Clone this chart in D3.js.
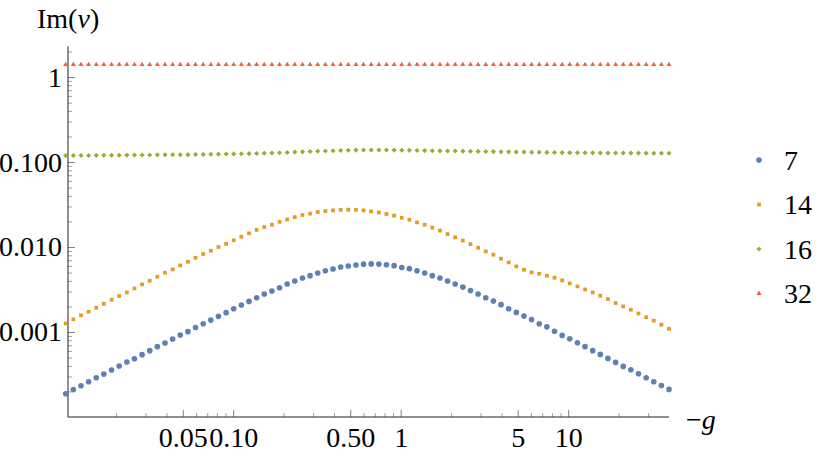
<!DOCTYPE html>
<html>
<head>
<meta charset="utf-8">
<script src="https://cdn.jsdelivr.net/npm/d3@7"></script>
<style>
  body { margin: 0; background: #fff; }
  svg { display: block; }
</style>
</head>
<body>
<div id="chart"></div>
<script>
const gValues = [
    0.01, 0.01111, 0.01234, 0.01370, 0.01522, 0.01690, 0.01878, 0.02086, 0.02317, 0.02573,
    0.02858, 0.03175, 0.03526, 0.03917, 0.04351, 0.04831, 0.05366, 0.05960, 0.06620, 0.07353,
    0.08166, 0.09071, 0.1007, 0.1119, 0.1243, 0.1380, 0.1533, 0.1703, 0.1891, 0.2101,
    0.2333, 0.2592, 0.2878, 0.3197, 0.3551, 0.3945, 0.4381, 0.4866, 0.5405, 0.6003,
    0.6668, 0.7406, 0.8226, 0.9137, 1.015, 1.127, 1.252, 1.391, 1.545, 1.716,
    1.905, 2.116, 2.351, 2.611, 2.900, 3.221, 3.578, 3.974, 4.414, 4.903,
    5.445, 6.048, 6.718, 7.462, 8.288, 9.204, 10.22, 11.36, 12.61, 14.01,
    15.56, 17.28, 19.20, 21.32, 23.68, 26.30, 29.22, 32.45, 36.04, 40.0
];

const series7 = [
    1.88e-4, 2.10e-4, 2.33e-4, 2.60e-4, 2.90e-4, 3.20e-4, 3.57e-4, 3.98e-4, 4.44e-4, 4.85e-4,
    5.41e-4, 6.03e-4, 6.72e-4, 7.42e-4, 8.27e-4, 9.22e-4, 1.01e-3, 1.13e-3, 1.25e-3, 1.38e-3,
    1.53e-3, 1.69e-3, 1.88e-3, 2.08e-3, 2.29e-3, 2.53e-3, 2.80e-3, 3.04e-3, 3.32e-3, 3.67e-3,
    3.98e-3, 4.32e-3, 4.60e-3, 4.95e-3, 5.26e-3, 5.51e-3, 5.82e-3, 5.98e-3, 6.14e-3, 6.28e-3,
    6.33e-3, 6.30e-3, 6.19e-3, 6.03e-3, 5.75e-3, 5.56e-3, 5.26e-3, 4.95e-3, 4.60e-3, 4.32e-3,
    3.98e-3, 3.67e-3, 3.38e-3, 3.08e-3, 2.80e-3, 2.53e-3, 2.32e-3, 2.10e-3, 1.88e-3, 1.70e-3,
    1.54e-3, 1.40e-3, 1.25e-3, 1.15e-3, 1.02e-3, 9.12e-4, 8.34e-4, 7.48e-4, 6.72e-4, 6.03e-4,
    5.45e-4, 4.89e-4, 4.39e-4, 3.94e-4, 3.60e-4, 3.23e-4, 2.90e-4, 2.60e-4, 2.35e-4, 2.11e-4
];

const series14 = [
    1.26e-3, 1.41e-3, 1.57e-3, 1.73e-3, 1.93e-3, 2.15e-3, 2.40e-3, 2.65e-3, 2.92e-3, 3.26e-3,
    3.63e-3, 4.01e-3, 4.47e-3, 4.99e-3, 5.45e-3, 6.07e-3, 6.72e-3, 7.48e-3, 8.27e-3, 9.05e-3,
    1.00e-2, 1.09e-2, 1.20e-2, 1.32e-2, 1.45e-2, 1.59e-2, 1.72e-2, 1.83e-2, 1.98e-2, 2.11e-2,
    2.25e-2, 2.38e-2, 2.47e-2, 2.58e-2, 2.65e-2, 2.70e-2, 2.74e-2, 2.75e-2, 2.74e-2, 2.70e-2,
    2.62e-2, 2.55e-2, 2.45e-2, 2.34e-2, 2.21e-2, 2.10e-2, 1.95e-2, 1.83e-2, 1.69e-2, 1.56e-2,
    1.42e-2, 1.30e-2, 1.19e-2, 1.08e-2, 9.81e-3, 8.88e-3, 8.12e-3, 7.29e-3, 6.59e-3, 5.91e-3,
    5.41e-3, 5.03e-3, 4.85e-3, 4.60e-3, 4.35e-3, 4.05e-3, 3.73e-3, 3.44e-3, 3.17e-3, 2.92e-3,
    2.67e-3, 2.44e-3, 2.19e-3, 2.00e-3, 1.83e-3, 1.65e-3, 1.49e-3, 1.36e-3, 1.22e-3, 1.09e-3
];

const series16 = [
    0.1190, 0.1192, 0.1194, 0.1196, 0.1198, 0.1200, 0.1202, 0.1204, 0.1206, 0.1208,
    0.1210, 0.1212, 0.1214, 0.1216, 0.1218, 0.1220, 0.1222, 0.1226, 0.1230, 0.1234,
    0.1238, 0.1242, 0.1246, 0.1250, 0.1256, 0.1262, 0.1268, 0.1276, 0.1286, 0.1297,
    0.1308, 0.1318, 0.1328, 0.1338, 0.1348, 0.1358, 0.1368, 0.1376, 0.1381, 0.1384,
    0.1385, 0.1385, 0.1384, 0.1382, 0.1378, 0.1373, 0.1368, 0.1363, 0.1358, 0.1354,
    0.1350, 0.1346, 0.1342, 0.1338, 0.1334, 0.1330, 0.1326, 0.1322, 0.1318, 0.1314,
    0.1310, 0.1306, 0.1302, 0.1298, 0.1295, 0.1292, 0.1289, 0.1286, 0.1284, 0.1282,
    0.1280, 0.1278, 0.1276, 0.1275, 0.1274, 0.1273, 0.1272, 0.1271, 0.1270, 0.1270
];

const series32 = [
    1.40, 1.40, 1.40, 1.40, 1.40, 1.40, 1.40, 1.40, 1.40, 1.40,
    1.40, 1.40, 1.40, 1.40, 1.40, 1.40, 1.40, 1.40, 1.40, 1.40,
    1.40, 1.40, 1.40, 1.40, 1.40, 1.40, 1.40, 1.40, 1.40, 1.40,
    1.40, 1.40, 1.40, 1.40, 1.40, 1.40, 1.40, 1.40, 1.40, 1.40,
    1.40, 1.40, 1.40, 1.40, 1.40, 1.40, 1.40, 1.40, 1.40, 1.40,
    1.40, 1.40, 1.40, 1.40, 1.40, 1.40, 1.40, 1.40, 1.40, 1.40,
    1.40, 1.40, 1.40, 1.40, 1.40, 1.40, 1.40, 1.40, 1.40, 1.40,
    1.40, 1.40, 1.40, 1.40, 1.40, 1.40, 1.40, 1.40, 1.40, 1.40
];

const seriesNames = ["7", "14", "16", "32"];

const xTickValues = [0.05, 0.1, 0.5, 1, 5, 10];
const xTickLabels = ["0.05", "0.10", "0.50", "1", "5", "10"];
const xMinorTicks = [0.02, 0.03, 0.04, 0.06, 0.07, 0.08, 0.09, 0.2, 0.3, 0.4, 0.6, 0.7, 0.8, 0.9,
    2, 3, 4, 6, 7, 8, 9, 20, 30];

const yTickValues = [1, 0.1, 0.01, 0.001];
const yTickLabels = ["1", "0.100", "0.010", "0.001"];
const yMinorTicks = [2,
    0.2, 0.3, 0.4, 0.5, 0.6, 0.7, 0.8, 0.9,
    0.02, 0.03, 0.04, 0.05, 0.06, 0.07, 0.08, 0.09,
    0.002, 0.003, 0.004, 0.005, 0.006, 0.007, 0.008, 0.009,
    0.0002, 0.0003, 0.0004, 0.0005, 0.0006, 0.0007, 0.0008, 0.0009];

const width = 830;
const height = 457;
const fontFamily = "Liberation Serif";
const fontSize = 28;

const colors = ["#5E81B5", "#E19C24", "#8FB032", "#EB6235"];

const x = d3.scaleLog()
    .domain([0.01, 40])
    .range([65.7, 669]);

const y = d3.scaleLog()
    .domain([1e-4, 2.3])
    .range([417, 46.3]);

const xOrigin = 0.01032;

const svg = d3.select("#chart")
    .append("svg")
    .attr("width", width)
    .attr("height", height)
    .attr("font-family", fontFamily);

// axes
const yAxisX = x(xOrigin);
const xAxisY = y.range()[0];

svg.append("g")
    .attr("transform", `translate(${yAxisX},0)`)
    .call(d3.axisLeft(y).tickValues(yMinorTicks).tickSize(-4).tickFormat(""))
    .call(g => g.select(".domain").remove())
    .call(g => g.selectAll("line").attr("stroke", "#a0a0a0"));

svg.append("g")
    .attr("transform", `translate(${yAxisX},0)`)
    .call(d3.axisLeft(y).tickValues(yTickValues).tickSize(-7).tickPadding(6)
        .tickFormat((d, i) => yTickLabels[i]))
    .attr("font-family", fontFamily)
    .attr("font-size", fontSize)
    .call(g => g.select(".domain").remove())
    .call(g => g.selectAll("line").attr("stroke", "#808080"))
    .call(g => g.selectAll("text").attr("fill", "#000"));

svg.append("g")
    .attr("transform", `translate(0,${xAxisY})`)
    .call(d3.axisBottom(x).tickValues(xMinorTicks).tickSize(-4).tickFormat(""))
    .call(g => g.select(".domain").remove())
    .call(g => g.selectAll("line").attr("stroke", "#a0a0a0"));

svg.append("g")
    .attr("transform", `translate(0,${xAxisY})`)
    .call(d3.axisBottom(x).tickValues(xTickValues).tickSize(-7).tickPadding(10)
        .tickFormat((d, i) => xTickLabels[i]))
    .attr("font-family", fontFamily)
    .attr("font-size", fontSize)
    .call(g => g.select(".domain").remove())
    .call(g => g.selectAll("line").attr("stroke", "#808080"))
    .call(g => g.selectAll("text").attr("fill", "#000"));

svg.append("line")
    .attr("x1", yAxisX).attr("x2", yAxisX)
    .attr("y1", y.range()[1]).attr("y2", xAxisY)
    .attr("stroke", "#222").attr("stroke-width", 1);

svg.append("line")
    .attr("x1", yAxisX).attr("x2", x.range()[1])
    .attr("y1", xAxisY).attr("y2", xAxisY)
    .attr("stroke", "#222").attr("stroke-width", 1);

// axis labels
const yLabel = svg.append("text")
    .attr("x", 37)
    .attr("y", 28)
    .attr("font-family", fontFamily)
    .attr("font-size", fontSize);
yLabel.append("tspan").text("Im(");
yLabel.append("tspan").attr("font-style", "italic").text("ν");
yLabel.append("tspan").text(")");

const xLabel = svg.append("text")
    .attr("x", 686)
    .attr("y", 429)
    .attr("font-family", fontFamily)
    .attr("font-size", fontSize);
xLabel.append("tspan").text("\u2212");
xLabel.append("tspan").attr("font-style", "italic").text("g");

// markers
const symbols = [
    d3.symbol().type(d3.symbolCircle).size(25),
    d3.symbol().type(d3.symbolSquare).size(14),
    d3.symbol().type(d3.symbolSquare).size(13),
    d3.symbol().type(d3.symbolTriangle).size(11)
];
const rotations = [0, 0, 45, 0];

const allSeries = [series7, series14, series16, series32];

allSeries.forEach((values, s) => {
    const pts = gValues.map((g, i) => ({ g: g, v: values[i] }));
    svg.append("g")
        .selectAll("path")
        .data(pts)
        .enter()
        .append("path")
        .attr("d", symbols[s]())
        .attr("transform", (d) => `translate(${x(d.g)},${y(d.v)}) rotate(${rotations[s]})`)
        .attr("fill", colors[s]);
});

// legend
const legend = svg.append("g");

legend.selectAll("path")
    .data(seriesNames)
    .enter()
    .append("path")
    .attr("d", (d, i) => symbols[i]())
    .attr("transform", (d, i) => `translate(759,${160 + i * 44.5}) rotate(${rotations[i]})`)
    .attr("fill", (d, i) => colors[i]);

legend.selectAll("text")
    .data(seriesNames)
    .enter()
    .append("text")
    .attr("x", 784)
    .attr("y", (d, i) => 160 + i * 44.5)
    .attr("dy", "0.34em")
    .attr("font-family", fontFamily)
    .attr("font-size", fontSize)
    .text((d) => d);
</script>
</body>
</html>
